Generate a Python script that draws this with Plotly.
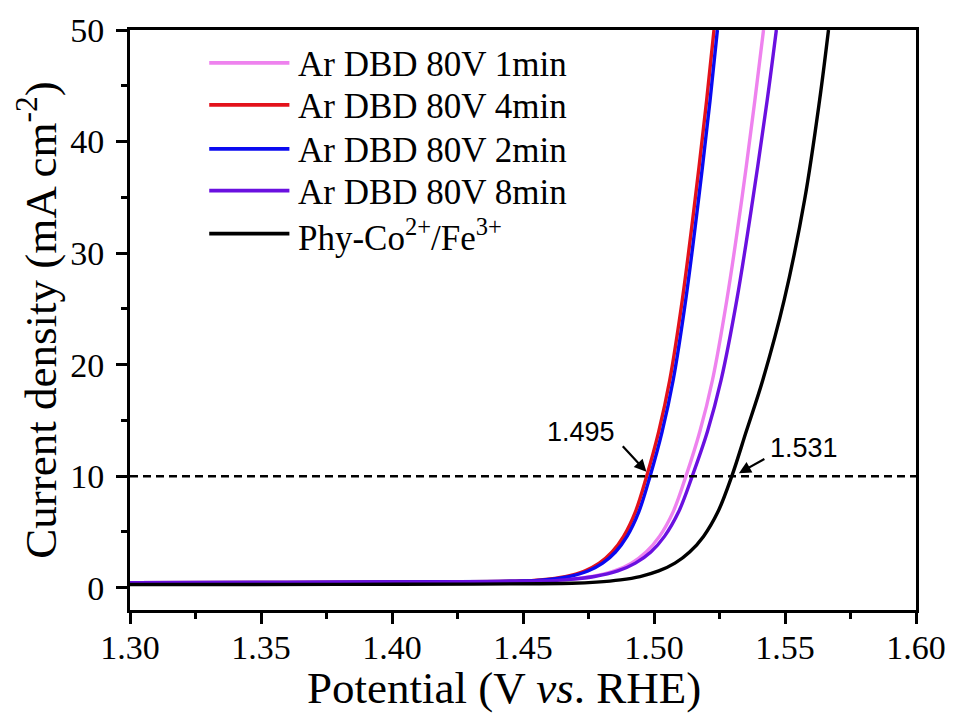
import plotly.graph_objects as go

# ---------------- data ----------------
series_names = ["Ar DBD 80V 1min", "Ar DBD 80V 4min", "Ar DBD 80V 2min",
                "Ar DBD 80V 8min", "Phy-Co<sup>2+</sup>/Fe<sup>3+</sup>"]
series_colors = ["#EE82EE", "#E3121B", "#0A0AF0", "#6A10E0", "#000000"]

# current density levels (mA cm-2) at which potentials were read
levels = [0.45, 0.47, 0.52, 0.6, 0.7, 1.0, 1.5, 2.2, 3.2, 4.6, 6.8, 10, 14, 18.6, 25.8, 34.8, 43.7, 50]

pink_x = [1.30, 1.36, 1.41, 1.4568, 1.4655, 1.4764, 1.4849, 1.4914, 1.4970, 1.5021, 1.5073,
          1.5122, 1.5175, 1.5223, 1.5278, 1.5335, 1.5385, 1.5418]
red_x = [1.30, 1.36, 1.41, 1.4490, 1.4566, 1.4661, 1.4735, 1.4791, 1.4840, 1.4884, 1.4929,
         1.4972, 1.5018, 1.5060, 1.5108, 1.5157, 1.5201, 1.5229]
blue_x = [1.30, 1.36, 1.41, 1.4503, 1.4579, 1.4674, 1.4748, 1.4804, 1.4853, 1.4897, 1.4942,
          1.4985, 1.5031, 1.5073, 1.5121, 1.5170, 1.5214, 1.5242]
purple_x = [1.30, 1.36, 1.41, 1.4568, 1.4659, 1.4773, 1.4862, 1.4929, 1.4988, 1.5040, 1.5094,
            1.5146, 1.5204, 1.5256, 1.5316, 1.5377, 1.5432, 1.5467]

black_levels = [0.28, 0.30, 0.4, 0.5, 0.7, 1.0, 1.5, 2.2, 3.2, 4.6, 6.8, 10, 14, 18.6, 25.8, 34.8, 43.7, 50]
black_x = [1.30, 1.38, 1.4687, 1.4780, 1.4872, 1.4947, 1.5018, 1.5080, 1.5136, 1.5189, 1.5244,
           1.5297, 1.5352, 1.5415, 1.5497, 1.5575, 1.5632, 1.5666]

series_x = [pink_x, red_x, blue_x, purple_x, black_x]
series_y = [levels, levels, levels, levels, black_levels]

ref_current = 10
marked_potentials = [1.495, 1.531]

x_ticks = [1.30, 1.35, 1.40, 1.45, 1.50, 1.55, 1.60]
x_ticklabels = ["1.30", "1.35", "1.40", "1.45", "1.50", "1.55", "1.60"]
y_ticks = [0, 10, 20, 30, 40, 50]

SERIF = "Liberation Serif, Times New Roman, serif"
SANS = "Liberation Sans, Arial, sans-serif"

fig = go.Figure()
for name, col, xs, ys in zip(series_names, series_colors, series_x, series_y):
    fig.add_trace(go.Scatter(x=xs, y=ys, mode="lines", name=name,
                             line=dict(color=col, width=3.4, shape="spline", smoothing=1.0),
                             showlegend=False))

# dashed reference line at 10 mA cm-2
fig.add_shape(type="line", xref="x domain", yref="y", x0=0, x1=1, y0=ref_current, y1=ref_current,
              line=dict(color="black", width=2.5, dash="8px,5px"))

# legend drawn manually (long line samples as in the reference)
leg_rows = [0.9432, 0.8709, 0.7952, 0.7229, 0.6489]
for name, col, yy in zip(series_names, series_colors, leg_rows):
    fig.add_shape(type="line", xref="x domain", yref="y domain", x0=0.1008, x1=0.2028,
                  y0=yy, y1=yy, line=dict(color=col, width=3.8))
    fig.add_annotation(xref="x domain", yref="y domain", x=0.2116, y=yy, text=name,
                       showarrow=False, xanchor="left", yanchor="middle", yshift=-2,
                       font=dict(family=SERIF, size=35, color="black"))

# arrows + labels for the onset potentials
fig.add_annotation(x=1.4971, y=10.4, xref="x", yref="y", text="", showarrow=True,
                   ax=-25, ay=-27, axref="pixel", ayref="pixel",
                   arrowhead=2, arrowsize=1.1, arrowwidth=2.2, arrowcolor="black")
fig.add_annotation(x=1.4722, y=13.97, text=f"{marked_potentials[0]:.3f}", showarrow=False,
                   font=dict(family=SANS, size=27, color="black"))
fig.add_annotation(x=1.5324, y=10.27, xref="x", yref="y", text="", showarrow=True,
                   ax=27, ay=-15, axref="pixel", ayref="pixel",
                   arrowhead=2, arrowsize=1.1, arrowwidth=2.2, arrowcolor="black")
fig.add_annotation(x=1.5572, y=12.53, text=f"{marked_potentials[1]:.3f}", showarrow=False,
                   font=dict(family=SANS, size=27, color="black"))

# x-axis title (slightly left of centre, as in the reference)
fig.add_annotation(xref="x domain", yref="y domain", x=0.476, y=-0.181, text="Potential (V <i>vs</i>. RHE)",
                   showarrow=False, xanchor="center", yanchor="bottom",
                   font=dict(family=SERIF, size=45, color="black"))

axis_common = dict(showline=True, linecolor="black", linewidth=3, mirror=True,
                   showgrid=False, zeroline=False, ticks="outside", ticklen=11,
                   tickwidth=2.5, tickcolor="black",
                   tickfont=dict(family=SERIF, size=34, color="black"))

fig.update_xaxes(range=[1.30, 1.60], tickvals=x_ticks, ticktext=x_ticklabels,
                 minor=dict(dtick=0.025, ticks="outside", ticklen=6, tickwidth=2.5, tickcolor="black"),
                 ticklabelstandoff=-6,
                 **axis_common)
fig.update_yaxes(range=[-2, 50], tickvals=y_ticks,
                 minor=dict(dtick=5, ticks="outside", ticklen=6, tickwidth=2.5, tickcolor="black"),
                 title=dict(text="Current density (mA cm<sup>-2</sup>)", font=dict(family=SERIF, size=45, color="black"),
                            standoff=0),
                 ticklabelstandoff=5,
                 **axis_common)

fig.update_layout(width=958, height=715, plot_bgcolor="white", paper_bgcolor="white",
                  margin=dict(l=130, r=34, t=29, b=105), showlegend=False)

fig.write_html("out.html")
